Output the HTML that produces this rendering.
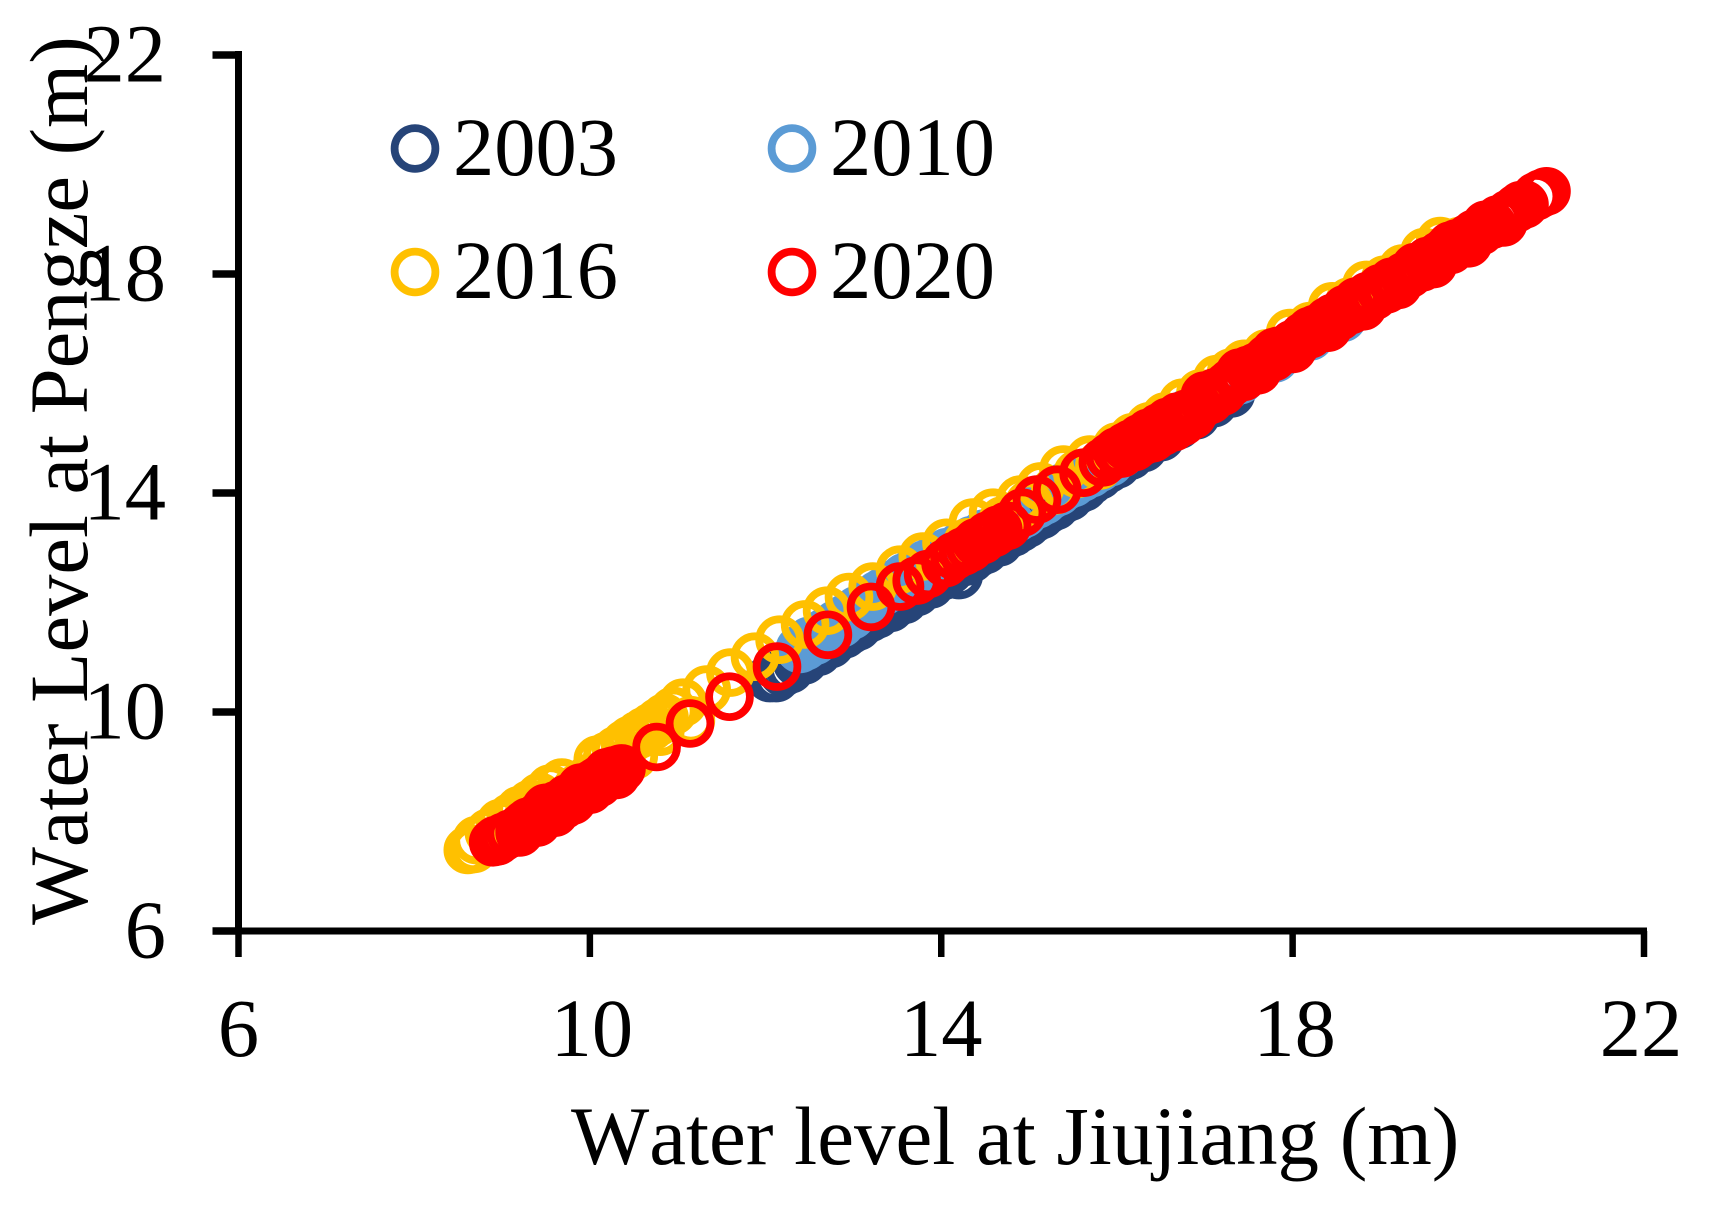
<!DOCTYPE html>
<html lang="en">
<head>
<meta charset="utf-8">
<title>Water level at Jiujiang vs Pengze</title>
<style>
html,body{margin:0;padding:0;background:#fff;}
svg{display:block;}
text{font-family:"Liberation Serif",serif;font-size:82.5px;fill:#000;font-kerning:none;}
</style>
</head>
<body>
<svg id="chart" xmlns="http://www.w3.org/2000/svg" width="1712" height="1210" viewBox="0 0 1712 1210">
  <rect x="0" y="0" width="1712" height="1210" fill="#ffffff"/>
  <g id="series-layer"></g>
  <g id="axis-layer"></g>
  <text x="571" y="1164" style="font-size:82.9px">Water level at Jiujiang (m)</text>
  <text x="87" y="925" transform="rotate(-90 87 925)">Water Level at Pengze (m)</text>
  <g>
    <g>
      <circle cx="415" cy="148.5" r="20.4" fill="none" stroke="#264478" stroke-width="7.8"/>
      <text x="453" y="175">2003</text>
    </g>
    <g>
      <circle cx="792" cy="148.5" r="20.4" fill="none" stroke="#5B9BD5" stroke-width="7.8"/>
      <text x="830" y="175">2010</text>
    </g>
    <g>
      <circle cx="415" cy="272" r="20.4" fill="none" stroke="#FFC000" stroke-width="7.8"/>
      <text x="453" y="298">2016</text>
    </g>
    <g>
      <circle cx="792" cy="272" r="20.4" fill="none" stroke="#FF0000" stroke-width="7.8"/>
      <text x="830" y="298">2020</text>
    </g>
  </g>
</svg>
<script>
const xTickLabels = [6, 10, 14, 18, 22];
const yTickLabels = [6, 10, 14, 18, 22];

const series2003 = [
[12.05,10.62],[12.12,10.62],[12.2,10.72],[12.28,10.78],[12.36,10.9],[12.44,10.94],[12.52,11.06],[12.6,11.1],[12.67,11.2],[12.74,11.24],[12.82,11.36],[12.9,11.42],[12.97,11.5],[13.05,11.56],[13.12,11.66],[13.19,11.72],[13.27,11.78],[13.35,11.88],[13.42,11.9],[13.5,12.0],[13.58,12.05],[13.65,12.15],[13.72,12.19],[13.8,12.29],[13.88,12.33],[13.95,12.45],[14.03,12.49],[14.1,12.59],[14.2,12.5],[14.26,12.74],[14.34,12.8],[14.42,12.9],[14.5,12.96],[14.58,13.06],[14.66,13.1],[14.74,13.22],[14.82,13.28],[14.9,13.36],[14.98,13.44],[15.06,13.54],[15.14,13.6],[15.22,13.7],[15.3,13.76],[15.38,13.87],[15.46,13.93],[15.54,14.04],[15.62,14.1],[15.7,14.22],[15.8,14.32],[15.9,14.44],[16.0,14.52],[16.15,14.68],[16.3,14.82],[16.5,15.02],[16.7,15.24],[16.9,15.42],[17.1,15.64],[17.3,15.82]
];

const series2010 = [
[12.39,11.15],[12.45,11.2],[12.5,11.3],[12.56,11.3],[12.62,11.38],[12.68,11.46],[12.74,11.5],[12.8,11.6],[12.86,11.62],[12.92,11.72],[12.98,11.76],[13.04,11.86],[13.1,11.9],[13.16,12.0],[13.22,12.04],[13.28,12.14],[13.34,12.2],[13.4,12.26],[13.46,12.34],[13.52,12.36],[13.58,12.46],[13.64,12.48],[13.7,12.58],[13.76,12.6],[13.82,12.7],[13.88,12.72],[13.94,12.82],[14.0,12.8],[14.07,12.92],[14.14,12.92],[14.21,13.02],[14.28,13.04],[14.35,13.14],[14.42,13.16],[14.49,13.26],[14.56,13.26],[14.63,13.34],[14.7,13.38],[14.78,13.46],[14.86,13.55],[14.94,13.62],[15.02,13.74],[15.09,13.79],[15.17,13.86],[15.25,13.96],[15.33,14.02],[15.41,14.12],[15.5,14.18],[15.6,14.28],[15.7,14.36],[15.8,14.46],[15.92,14.56],[16.05,14.72],[16.2,14.86],[16.4,15.06],[16.6,15.26],[16.8,15.46],[17.0,15.66],[17.2,15.86],[17.4,16.06],[17.6,16.26],[17.8,16.46],[18.0,16.66],[18.2,16.86],[18.4,17.06],[18.57,17.2]
];

const series2016 = [
[8.61,7.48],[8.71,7.66],[8.68,7.5],[8.85,7.8],[8.98,7.97],[9.1,8.08],[9.2,8.21],[9.32,8.32],[9.43,8.45],[9.55,8.6],[9.68,8.71],[9.3,8.1],[9.6,8.35],[9.85,8.6],[10.0,8.8],[10.09,9.13],[10.2,9.2],[10.3,9.3],[10.4,9.42],[10.46,9.49],[10.55,9.58],[10.62,9.65],[10.7,9.73],[10.8,9.64],[10.78,9.82],[10.85,9.9],[10.95,10.02],[11.06,10.17],[10.5,9.2],[11.15,9.85],[11.33,10.41],[11.6,10.72],[11.88,11.01],[12.16,11.32],[12.45,11.6],[12.7,11.85],[12.95,12.1],[13.22,12.29],[13.53,12.6],[13.79,12.84],[14.06,13.09],[14.36,13.46],[14.3,13.1],[14.59,13.64],[14.7,13.5],[14.9,13.88],[15.0,13.8],[15.13,14.12],[15.3,14.05],[15.39,14.43],[15.55,14.35],[15.69,14.61],[15.8,14.5],[16.0,14.85],[16.18,15.02],[16.37,15.22],[16.55,15.4],[16.75,15.65],[16.95,15.82],[17.14,16.08],[17.3,16.2],[17.45,16.36],[17.7,16.55],[17.97,16.92],[18.2,17.05],[18.45,17.41],[18.65,17.5],[18.84,17.8],[19.05,17.9],[19.25,18.1],[19.5,18.4],[19.68,18.6],[19.9,18.6],[20.1,18.75]
];

const series2020 = [
[8.9,7.62],[8.93,7.66],[8.95,7.64],[8.98,7.68],[9.02,7.72],[9.1,7.78],[9.2,7.87],[9.26,7.95],[9.34,8.0],[9.42,8.1],[9.5,8.17],[9.56,8.24],[9.62,8.3],[9.68,8.34],[9.74,8.42],[9.8,8.46],[9.86,8.53],[9.9,8.56],[9.96,8.62],[10.0,8.66],[10.04,8.7],[10.08,8.74],[10.12,8.78],[10.16,8.82],[10.2,8.85],[10.24,8.9],[10.27,8.93],[10.3,8.94],[10.36,8.97],
[9.3,8.0],[9.5,8.25],[9.7,8.3],[9.9,8.62],[10.1,8.7],[10.2,8.9],[10.3,8.85],[9.2,7.8],[9.4,7.98],[9.6,8.16],[9.8,8.38],[10.0,8.58],
[10.76,9.36],[11.14,9.79],[11.59,10.28],[12.13,10.83],[12.71,11.41],[13.2,11.92],[13.53,12.29],[13.72,12.4],[13.85,12.52],
[14.05,12.72],[14.15,12.85],[14.25,12.93],[14.33,13.0],[14.4,13.1],[14.47,13.14],[14.53,13.22],[14.6,13.27],[14.65,13.33],[14.75,13.4],[14.92,13.64],[15.09,13.88],[15.32,14.06],[15.62,14.37],[15.84,14.56],
[15.92,14.66],[16.0,14.76],[16.05,14.72],[16.1,14.85],[16.16,14.9],[16.2,14.84],[16.26,15.0],[16.3,14.95],[16.36,15.1],[16.42,15.02],[16.48,15.2],[16.52,15.12],[16.58,15.3],[16.64,15.2],[16.7,15.4],[16.75,15.3],[16.8,15.45],[16.86,15.42],[16.92,15.56],[17.0,15.66],[17.06,15.7],[17.12,15.84],[17.18,15.86],[17.25,15.95],[17.3,16.02],[17.38,16.1],[17.44,16.12],[17.5,16.25],[17.58,16.3],[17.65,16.36],[17.72,16.46],[17.78,16.48],[17.85,16.6],[17.92,16.62],[18.0,16.72],[18.06,16.76],[18.12,16.86],[18.2,16.9],[18.26,17.0],[18.33,17.02],[18.4,17.14],[18.46,17.2],[18.53,17.22],[18.6,17.36],[18.66,17.34],[18.73,17.5],[18.8,17.48],[18.86,17.6],[18.93,17.6],[19.0,17.7],[19.07,17.72],[19.13,17.86],[19.2,17.86],[19.27,17.96],[19.33,18.0],[19.4,18.08],[19.47,18.12],[19.54,18.24],[19.6,18.26],[19.67,18.34],[19.74,18.42],[19.8,18.44],[19.87,18.56],[19.94,18.58],[20.0,18.66],[20.07,18.74],[20.14,18.78],[20.2,18.88],[20.27,18.9],[20.34,19.0],[20.4,19.02],[20.46,19.1],
[16.4,15.0],[16.6,15.28],[16.8,15.38],[17.0,15.78],[17.2,15.85],[17.4,16.2],[17.6,16.24],[17.8,16.58],[18.0,16.63],[18.2,16.96],[18.4,17.02],[18.6,17.35],[18.8,17.41],[19.0,17.74],[19.2,17.8],[19.4,18.13],[19.6,18.18],[19.8,18.52],[20.0,18.56],[20.2,18.9],[20.4,18.94],
[20.55,19.2],[20.6,19.26],[20.64,19.27],[20.77,19.42],[20.83,19.47],[20.89,19.51]
];

const seriesNames = ['2003', '2010', '2016', '2020'];
const seriesColors = ['#264478', '#5B9BD5', '#FFC000', '#FF0000'];
const seriesValues = [series2003, series2010, series2016, series2020];

const NS = 'http://www.w3.org/2000/svg';
const xScale = function (v) { return 238.5 + (v - 6) * (1644 - 238.5) / 16; };
const yScale = function (v) { return 931 - (v - 6) * (931 - 55) / 16; };

const seriesLayer = document.getElementById('series-layer');
seriesValues.forEach(function (points, s) {
  const group = document.createElementNS(NS, 'g');
  
  
  points.forEach(function (p) {
    const c = document.createElementNS(NS, 'circle');
    
    
    c.setAttribute('cx', xScale(p[0]).toFixed(1));
    c.setAttribute('cy', yScale(p[1]).toFixed(1));
    c.setAttribute('r', '20.4');
    c.setAttribute('fill', 'none');
    c.setAttribute('stroke', seriesColors[s]);
    c.setAttribute('stroke-width', '7.8');
    group.appendChild(c);
  });
  seriesLayer.appendChild(group);
});

const axisLayer = document.getElementById('axis-layer');
function addLine(name, x1, y1, x2, y2, w) {
  const l = document.createElementNS(NS, 'line');
  
  
  l.setAttribute('x1', x1);
  l.setAttribute('y1', y1);
  l.setAttribute('x2', x2);
  l.setAttribute('y2', y2);
  l.setAttribute('stroke', '#000');
  l.setAttribute('stroke-width', w);
  axisLayer.appendChild(l);
}
function addLabel(name, x, y, anchor, str) {
  const t = document.createElementNS(NS, 'text');
  
  
  t.setAttribute('x', x);
  t.setAttribute('y', y);
  t.setAttribute('text-anchor', anchor);
  t.textContent = str;
  axisLayer.appendChild(t);
}
addLine('y-axis-line', xScale(6), yScale(22) - 4, xScale(6), yScale(6), 7);
addLine('x-axis-line', xScale(6), yScale(6), xScale(22) + 3, yScale(6), 7);
xTickLabels.forEach(function (v) {
  addLine('x-tick-' + v, xScale(v), yScale(6), xScale(v), yScale(6) + 26, 6.5);
  addLabel('x-tick-label-' + v, xScale(v) - (v === 22 ? 3 : 0) + (v === 10 || v === 18 ? 2 : 0), 1056, 'middle', String(v));
});
yTickLabels.forEach(function (v) {
  addLine('y-tick-' + v, xScale(6) - 26, yScale(v), xScale(6), yScale(v), 7.5);
  addLabel('y-tick-label-' + v, 166, yScale(v) + 26.5, 'end', String(v));
});
</script>
</body>
</html>
